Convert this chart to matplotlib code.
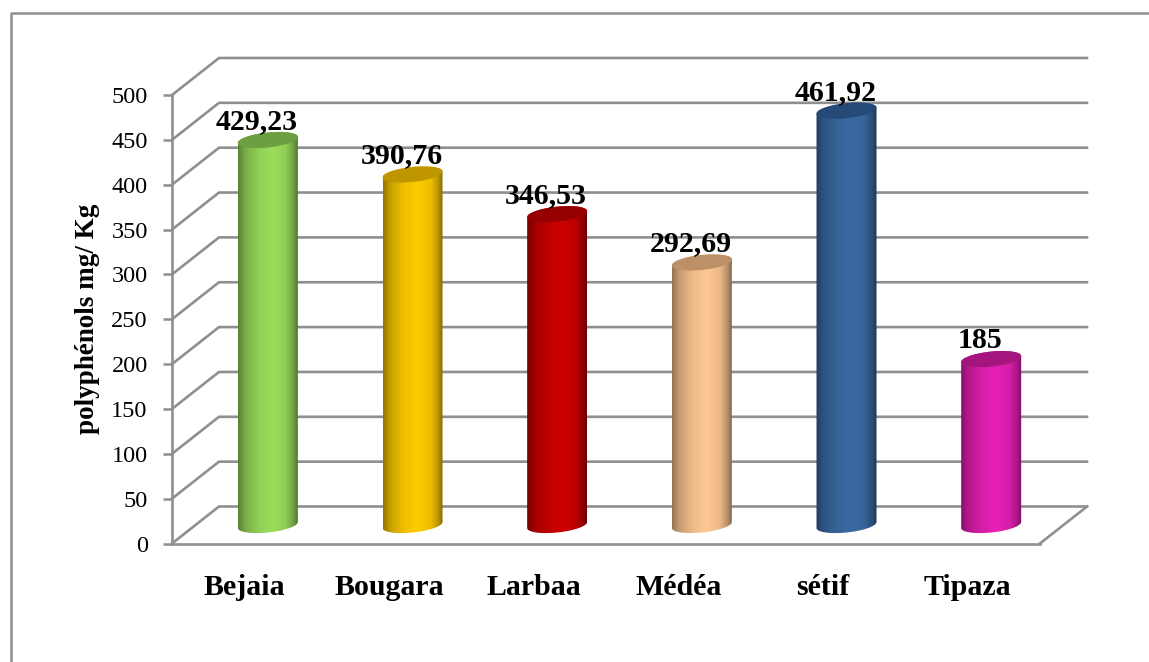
import numpy as np
import matplotlib
matplotlib.use('Agg')
import matplotlib.pyplot as plt
from matplotlib.colors import LinearSegmentedColormap
from matplotlib.lines import Line2D
from matplotlib.patches import PathPatch, Polygon
from matplotlib.path import Path

plt.rcParams['font.family'] = ['Liberation Serif', 'DejaVu Serif']

sites = ['Bejaia', 'Bougara', 'Larbaa', 'Médéa', 'sétif', 'Tipaza']
values = [429.23, 390.76, 346.53, 292.69, 461.92, 185]
value_labels = ['429,23', '390,76', '346,53', '292,69', '461,92', '185']
yticks = [0, 50, 100, 150, 200, 250, 300, 350, 400, 450, 500]
body_colors = ['#9BDD5C', '#FFCC00', '#CC0000', '#FFC794', '#3A6AA3', '#E620B4']
cap_colors = ['#6C9E42', '#BF9600', '#960000', '#BC9168', '#254A78', '#A5157F']

W, H = 1149, 662
GRAY = '#8F8F8F'

fig = plt.figure(figsize=(W/100, H/100), dpi=100, facecolor='white')

# outer frame, only top and left show
fig.add_artist(Line2D([10.5/W, 10.5/W, 1], [0, 1-12.5/H, 1-12.5/H], color=GRAY, lw=1.8))

ax = fig.add_axes([172/W, 1-543.5/H, 868/W, 448.5/H])
ax.patch.set_visible(False)

# oblique depth of the box, in data units
dx = 47/(868/6)
dy = 37/(448.5/500)

# grid on the back wall and side wall
for v in yticks:
    ax.plot([0, dx, 6+dx], [v, v+dy, v+dy], color=GRAY, lw=1.9, clip_on=False, zorder=1,
            solid_joinstyle='miter')
ax.plot([6, 6+dx], [0, dy], color=GRAY, lw=1.9, clip_on=False, zorder=1)

# cylinders
a = 30/(868/6)
b = 7.5/(448.5/500)
c = 3/(448.5/500)
t = np.linspace(0, 2*np.pi, 121)
for i, v in enumerate(values):
    cx = i+0.5+dx/2
    base = dy/2
    top = v+dy/2
    ex = cx+a*np.cos(t)
    ey = b*np.sin(t)+c*np.cos(t)
    # silhouette: lower half of bottom ellipse + upper half of top ellipse
    low = t[60:121]
    up = t[0:61]
    px = np.r_[cx+a*np.cos(low), cx+a*np.cos(up)]
    py = np.r_[base+b*np.sin(low)+c*np.cos(low), top+b*np.sin(up)+c*np.cos(up)]
    body = Polygon(np.c_[px, py], closed=True, transform=ax.transData, fc='none', ec='none')
    ax.add_patch(body)
    col = np.array(matplotlib.colors.to_rgb(body_colors[i]))
    cmap = LinearSegmentedColormap.from_list('cyl', [
        (0.0, col*0.58), (0.12, col*0.78), (0.35, col*0.94), (0.58, col),
        (0.8, col*0.93), (0.93, col*0.72), (1.0, col*0.52)])
    im = ax.imshow(np.linspace(0, 1, 128)[None, :], extent=[cx-a, cx+a, base-b-c, top+b+c],
                   cmap=cmap, aspect='auto', zorder=3, clip_on=True, interpolation='bilinear')
    im.set_clip_path(body)
    ax.add_patch(Polygon(np.c_[ex, top+ey], closed=True, fc=cap_colors[i], ec='none',
                         zorder=4, clip_on=False))
    ax.annotate(value_labels[i], (cx, top), xytext=(-11, 11), textcoords='offset pixels',
                ha='center', va='baseline', fontsize=21.5, fontweight='bold', color='black',
                zorder=6, annotation_clip=False)

ax.set_xlim(0, 6)
ax.set_ylim(0, 500)

for s in ['top', 'right']:
    ax.spines[s].set_visible(False)
for s in ['left', 'bottom']:
    ax.spines[s].set_color(GRAY)
    ax.spines[s].set_linewidth(1.9)
    ax.spines[s].set_zorder(2)

ax.set_yticks(yticks)
ax.tick_params(axis='y', length=6.5, width=1.8, color=GRAY, labelsize=17.5, pad=11)
ax.set_xticks(np.arange(6)+0.5)
ax.set_xticklabels(sites, fontsize=21.5, fontweight='bold')
ax.tick_params(axis='x', length=0, pad=22)
ax.set_ylabel('polyphénols mg/ Kg', fontsize=19.5, fontweight='bold', labelpad=8)

plt.savefig('out.png', dpi=100)
